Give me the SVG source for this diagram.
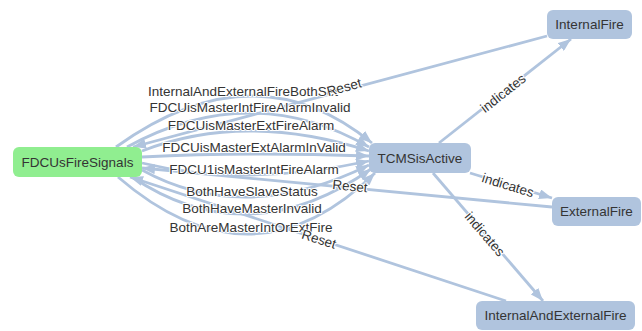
<svg xmlns="http://www.w3.org/2000/svg" width="642" height="331" viewBox="0 0 642 331">
<style>
  .edge { fill: none; stroke: #b0c4de; stroke-width: 2.8; }
  .node rect { stroke: none; }
  .blue rect { fill: #b0c4de; }
  .green rect { fill: #90ee90; }
  .ntext { font-family: "Liberation Sans", Arial, sans-serif; font-size: 13.5px; fill: #343434; text-anchor: middle; }
  .elabel { font-family: "Liberation Sans", Arial, sans-serif; font-size: 13.5px; fill: #343434; text-anchor: middle; stroke: #ffffff; stroke-width: 2; paint-order: stroke; stroke-linejoin: round; }
</style>
<defs>
  <marker id="arrow" viewBox="0 0 13 10" refX="13" refY="5" markerWidth="13" markerHeight="10" markerUnits="userSpaceOnUse" orient="auto">
    <path d="M0,0 L13,5 L0,10 z" fill="#b0c4de"/>
  </marker>
</defs>

<g id="connectors">
  <!-- FDCUsFireSignals -> TCMSisActive -->
  <path class="edge" marker-end="url(#arrow)" d="M116,147 Q255,47 372,143"/>
  <path class="edge" marker-end="url(#arrow)" d="M127,147 Q251.5,79 369,147"/>
  <path class="edge" marker-end="url(#arrow)" d="M142,151 Q244.5,111 369,151"/>
  <path class="edge" marker-end="url(#arrow)" d="M142,157 Q244.5,151.5 369,156"/>
  <path class="edge" marker-end="url(#arrow)" d="M142,163 Q244.5,188 369,161"/>
  <path class="edge" marker-end="url(#arrow)" d="M142,170 Q244.5,226.5 369,165"/>
  <path class="edge" marker-end="url(#arrow)" d="M132,177 Q248.5,255 371,169"/>
  <path class="edge" marker-end="url(#arrow)" d="M118,177 Q252.5,293 375,173"/>
  <!-- Reset edges -->
  <path class="edge" marker-end="url(#arrow)" d="M547,36 L133,147"/>
  <path class="edge" marker-end="url(#arrow)" d="M552,207 L142,168"/>
  <path class="edge" marker-end="url(#arrow)" d="M506,301 L130,177"/>
  <!-- indicates edges -->
  <path class="edge" marker-end="url(#arrow)" d="M439,143 L571,39"/>
  <path class="edge" marker-end="url(#arrow)" d="M470,173 L552,198"/>
  <path class="edge" marker-end="url(#arrow)" d="M433,173 L543,301"/>

  <!-- labels -->
  <text class="elabel" x="243" y="95.8">InternalAndExternalFireBothSet</text>
  <text class="elabel" x="250" y="111.8">FDCUisMasterIntFireAlarmInvalid</text>
  <text class="elabel" x="251" y="129.8">FDCUisMasterExtFireAlarm</text>
  <text class="elabel" x="254" y="151.8">FDCUisMasterExtAlarmInValid</text>
  <text class="elabel" x="254" y="173.8">FDCU1isMasterIntFireAlarm</text>
  <text class="elabel" x="252" y="195.8">BothHaveSlaveStatus</text>
  <text class="elabel" x="252" y="212.8">BothHaveMasterInvalid</text>
  <text class="elabel" x="251" y="231.8">BothAreMasterIntOrExtFire</text>
  <text class="elabel" transform="translate(344,87) rotate(-15)" y="4.8">Reset</text>
  <text class="elabel" transform="translate(350,186) rotate(5.5)" y="4.8">Reset</text>
  <text class="elabel" transform="translate(319,239) rotate(17.8)" y="4.8">Reset</text>
  <text class="elabel" transform="translate(503,93) rotate(-38.2)" y="4.8">indicates</text>
  <text class="elabel" transform="translate(508,185) rotate(16.9)" y="4.8">indicates</text>
  <text class="elabel" transform="translate(485,234) rotate(49.3)" y="4.8">indicates</text>
</g>

<g id="FDCUsFireSignals" class="node green">
  <rect x="13" y="147" width="129" height="30" rx="6"/>
  <text class="ntext" x="77.5" y="166.8">FDCUsFireSignals</text>
</g>
<g id="TCMSisActive" class="node blue">
  <rect x="369" y="143" width="102" height="30" rx="6"/>
  <text class="ntext" x="420" y="162.8">TCMSisActive</text>
</g>
<g id="InternalFire" class="node blue">
  <rect x="547" y="10" width="85" height="29" rx="6"/>
  <text class="ntext" x="589.5" y="29.3">InternalFire</text>
</g>
<g id="ExternalFire" class="node blue">
  <rect x="552" y="197" width="89" height="29" rx="6"/>
  <text class="ntext" x="596.5" y="216.3">ExternalFire</text>
</g>
<g id="InternalAndExternalFire" class="node blue">
  <rect x="476" y="301" width="159" height="29" rx="6"/>
  <text class="ntext" x="555.5" y="320.3">InternalAndExternalFire</text>
</g>
</svg>
